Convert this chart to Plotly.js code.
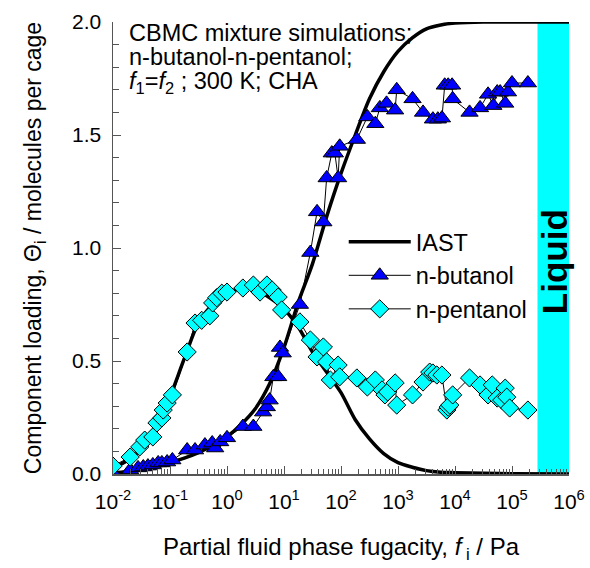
<!DOCTYPE html>
<html>
<head>
<meta charset="utf-8">
<script src="https://cdn.plot.ly/plotly-3.0.1.min.js"></script>
<style>html,body{margin:0;padding:0;background:#fff;}#chart{width:590px;height:568px;}</style>
</head>
<body>
<div id="chart"></div>
<script>
// ---- data (fugacity in Pa, loading in molecules per cage) ----
var butanolF = [0.01,0.02,0.0275,0.034,0.041,0.05,0.062,0.072,0.089,0.11,0.2,0.275,0.41,0.55,0.62,0.76,1.0,1.9,2.9,4.3,5.0,5.6,6.5,7.9,8.5,9.5,19,29,38,49,56,69,78,89,95,190,290,400,480,630,890,950,1800,2750,4100,5000,5900,6600,7600,8900,9100,18000,27500,38000,47000,55000,62000,76000,85000,100000,190000];
var butanolQ = [0.004,0.018,0.027,0.031,0.035,0.04,0.049,0.049,0.053,0.062,0.106,0.106,0.128,0.137,0.115,0.142,0.16,0.21,0.21,0.274,0.297,0.327,0.43,0.43,0.56,0.535,0.75,0.98,1.16,1.115,1.31,1.42,1.42,1.31,1.45,1.48,1.58,1.55,1.62,1.64,1.61,1.70,1.66,1.60,1.57,1.57,1.575,1.72,1.72,1.72,1.66,1.60,1.62,1.68,1.63,1.69,1.69,1.64,1.69,1.73,1.73];

var pentanolF = [0.01,0.02,0.0295,0.036,0.05,0.059,0.072,0.076,0.089,0.11,0.2,0.275,0.36,0.5,0.56,0.66,0.81,1.0,1.9,2.9,3.8,5.0,6.2,7.9,9.1,19,29,38,49,56,65,89,95,190,290,400,525,590,660,890,950,1800,2750,3600,4100,4800,5900,7200,7600,8100,9100,18000,27500,38000,45000,55000,66000,76000,81000,91000,190000];
var pentanolQ = [0.035,0.075,0.12,0.15,0.164,0.226,0.248,0.283,0.314,0.35,0.54,0.668,0.68,0.70,0.757,0.78,0.80,0.805,0.823,0.836,0.805,0.836,0.814,0.783,0.726,0.673,0.593,0.518,0.562,0.496,0.416,0.482,0.43,0.425,0.385,0.416,0.372,0.35,0.363,0.403,0.305,0.35,0.407,0.451,0.447,0.438,0.438,0.283,0.296,0.305,0.35,0.425,0.394,0.35,0.394,0.336,0.327,0.38,0.34,0.292,0.283];

var iastF = [0.01,0.0178,0.0316,0.0562,0.1,0.178,0.316,0.562,1,1.78,3.16,5.62,10,17.8,31.6,56.2,100,178,316,562,1000,1780,3160,5620,10000,31600,100000,1000000];
var iastButanol = [0.006,0.01,0.018,0.03,0.05,0.07,0.095,0.125,0.165,0.22,0.29,0.40,0.56,0.76,0.93,1.14,1.33,1.50,1.66,1.78,1.87,1.93,1.97,1.987,1.995,2.0,2.0,2.0];
var iastPentanol = [0.025,0.06,0.11,0.19,0.34,0.51,0.67,0.75,0.80,0.82,0.815,0.78,0.73,0.65,0.54,0.45,0.36,0.24,0.155,0.09,0.05,0.03,0.015,0.008,0.006,0.003,0.001,0.0];

var liquidRange = [280000, 1000000];

var xTickVals = [0.01,0.1,1,10,100,1000,10000,100000,1000000];
var xTickText = ['10<sup>-2</sup>','10<sup>-1</sup>','10<sup>0</sup>','10<sup>1</sup>','10<sup>2</sup>','10<sup>3</sup>','10<sup>4</sup>','10<sup>5</sup>','10<sup>6</sup>'];
var yTickVals = [0,0.5,1.0,1.5,2.0];
var yTickText = ['0.0','0.5','1.0','1.5','2.0'];

// minor tick positions (2..9 x 10^n)
var xMinor = [];
for (var e = -2; e < 6; e++) { for (var m = 2; m <= 9; m++) { xMinor.push(m * Math.pow(10, e)); } }

var FONT = 'Liberation Sans, Arial, Helvetica, sans-serif';
var AX = '#555';

var traces = [
  {x: iastF, y: iastButanol, name: 'IAST', mode: 'lines', line: {color: '#000', width: 3.5, shape: 'spline', smoothing: 0.8}, legendgroup: 'iast'},
  {x: iastF, y: iastPentanol, name: 'IAST', mode: 'lines', line: {color: '#000', width: 3.5, shape: 'spline', smoothing: 0.8}, showlegend: false, legendgroup: 'iast'},
  {x: butanolF, y: butanolQ, name: 'n-butanol', mode: 'lines+markers', line: {color: '#000', width: 1},
   marker: {symbol: 'triangle-up', size: 15, color: '#0000FF', line: {color: '#000', width: 1}}},
  {x: pentanolF, y: pentanolQ, name: 'n-pentanol', mode: 'lines+markers', line: {color: '#000', width: 1},
   marker: {symbol: 'diamond', size: 14, color: '#00FFFF', line: {color: '#000', width: 1}}}
];

var layout = {
  width: 590, height: 568,
  margin: {l: 113, r: 21, t: 22, b: 94},
  paper_bgcolor: '#fff', plot_bgcolor: '#fff',
  font: {family: FONT, color: '#000', size: 23},
  showlegend: true,
  legend: {x: 0.506, y: 0.562, xanchor: 'left', yanchor: 'top', bgcolor: 'rgba(0,0,0,0)', borderwidth: 0,
           font: {family: FONT, size: 23.5, color: '#000'}, itemwidth: 62, tracegroupgap: 0},
  xaxis: {
    type: 'log', range: [-2, 6.0],
    tickmode: 'array', tickvals: xTickVals, ticktext: xTickText,
    ticks: 'inside', ticklen: 8, tickwidth: 1, tickcolor: AX,
    showline: true, linecolor: AX, linewidth: 1.5, showgrid: false, zeroline: false,
    tickfont: {family: FONT, size: 21, color: '#000'}, ticklabelstandoff: 8,
    minor: {tickmode: 'array', tickvals: xMinor, ticks: 'inside', ticklen: 5, tickwidth: 1, tickcolor: AX, showgrid: false},
    title: {text: 'Partial fluid phase fugacity, <i>f</i><sub> i</sub> / Pa', font: {family: FONT, size: 24, color: '#000'}, standoff: 26}
  },
  yaxis: {
    range: [0, 2.0],
    tickmode: 'array', tickvals: yTickVals, ticktext: yTickText,
    ticks: 'inside', ticklen: 8, tickwidth: 1, tickcolor: AX,
    showline: true, linecolor: AX, linewidth: 1.5, showgrid: false, zeroline: false,
    tickfont: {family: FONT, size: 21, color: '#000'}, ticklabelstandoff: 6,
    minor: {dtick: 0.1, ticks: 'inside', ticklen: 6, tickwidth: 1, tickcolor: AX, showgrid: false},
    title: {text: 'Component loading, \u0398<sub>i</sub> / molecules per cage', font: {family: FONT, size: 23, color: '#000'}, standoff: 24}
  },
  shapes: [
    {type: 'rect', xref: 'x', yref: 'y', x0: liquidRange[0], x1: liquidRange[1], y0: 0, y1: 2.0,
     fillcolor: '#00FFFF', line: {width: 0}, layer: 'below'}
  ],
  annotations: [
    {xref: 'paper', yref: 'paper', x: 0.031, y: 0.976, xanchor: 'left', yanchor: 'middle', showarrow: false,
     text: 'CBMC mixture simulations;', font: {family: FONT, size: 23.5, color: '#000'}},
    {xref: 'paper', yref: 'paper', x: 0.031, y: 0.922, xanchor: 'left', yanchor: 'middle', showarrow: false,
     text: 'n-butanol-n-pentanol;', font: {family: FONT, size: 23.5, color: '#000'}},
    {xref: 'paper', yref: 'paper', x: 0.031, y: 0.866, xanchor: 'left', yanchor: 'middle', showarrow: false,
     text: '<i>f</i><sub>1</sub>=<i>f</i><sub>2</sub> ; 300 K; CHA', font: {family: FONT, size: 23.5, color: '#000'}},
    {xref: 'x', yref: 'y', x: Math.log10(560000), y: 0.94, xanchor: 'center', yanchor: 'middle', showarrow: false,
     textangle: -90, text: '<b>Liquid</b>', font: {family: FONT, size: 35, color: '#000'}}
  ]
};

Plotly.newPlot('chart', traces, layout, {displayModeBar: false, staticPlot: true});
</script>
</body>
</html>
